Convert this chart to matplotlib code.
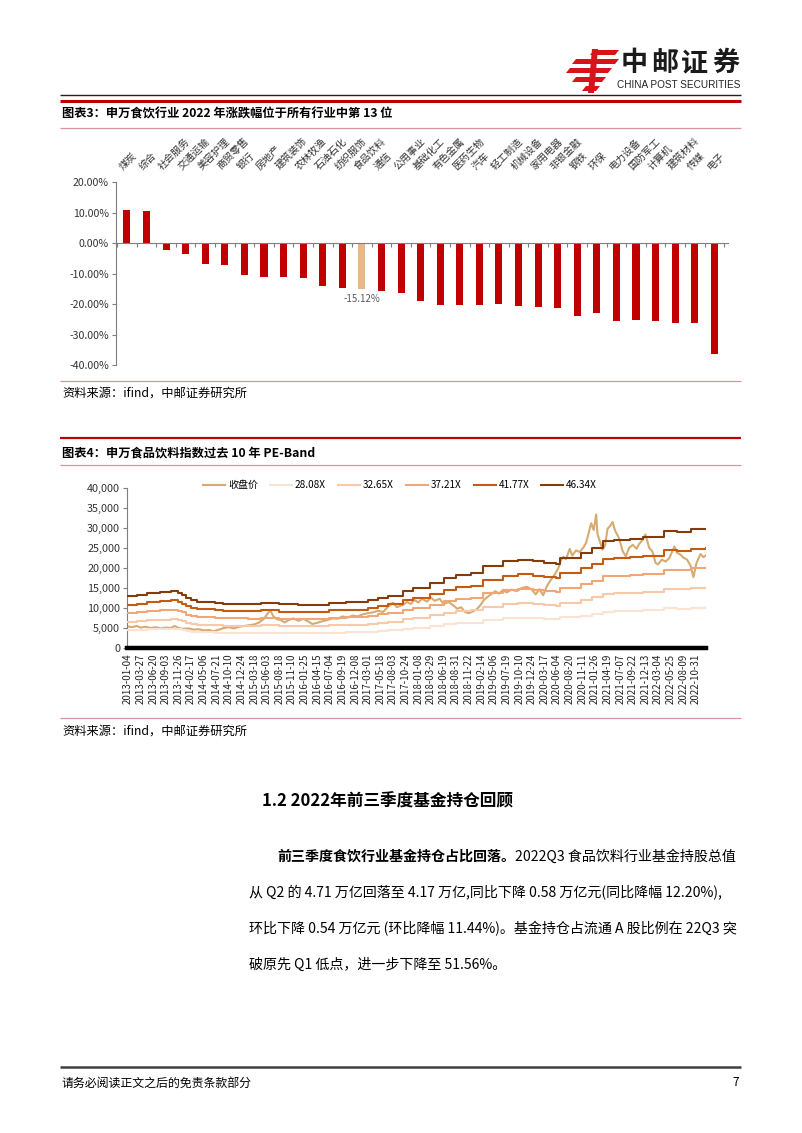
import numpy as np
import matplotlib
matplotlib.use("Agg")
import matplotlib.pyplot as plt
from matplotlib.lines import Line2D
from matplotlib.patches import Polygon
import matplotlib.transforms as mtrans

plt.rcParams['font.family'] = ['Noto Sans CJK SC', 'DejaVu Sans']
plt.rcParams['axes.unicode_minus'] = False

W, H = 802, 1133

# ---- chart 1: 2022 industry returns (%)
industries = ["煤炭", "综合", "社会服务", "交通运输", "美容护理", "商贸零售", "银行", "房地产",
              "建筑装饰", "农林牧渔", "石油石化", "纺织服饰", "食品饮料", "通信", "公用事业",
              "基础化工", "有色金属", "医药生物", "汽车", "轻工制造", "机械设备", "家用电器",
              "非银金融", "钢铁", "环保", "电力设备", "国防军工", "计算机", "建筑材料", "传媒", "电子"]
change_2022 = [10.9, 10.6, -2.3, -3.5, -6.9, -7.2, -10.6, -11.2, -11.1, -11.5, -14.0, -14.7,
               -15.12, -15.6, -16.4, -19.1, -20.4, -20.4, -20.2, -20.1, -20.8, -21.0, -21.4,
               -23.9, -22.9, -25.5, -25.4, -25.5, -26.2, -26.2, -36.5]
highlight = "食品饮料"

# ---- chart 2: PE band (x in tick-label units)
date_labels = ["2013-01-04", "2013-03-27", "2013-06-20", "2013-09-03", "2013-11-26",
               "2014-02-17", "2014-05-06", "2014-07-21", "2014-10-10", "2014-12-24",
               "2015-03-18", "2015-06-03", "2015-08-18", "2015-11-10",
               "2016-01-25", "2016-04-15", "2016-07-04", "2016-09-19", "2016-12-08",
               "2017-03-01", "2017-05-18", "2017-08-03", "2017-10-24",
               "2018-01-08", "2018-03-29", "2018-06-19", "2018-08-31", "2018-11-22",
               "2019-02-14", "2019-05-06", "2019-07-19", "2019-10-10", "2019-12-24",
               "2020-03-17", "2020-06-04", "2020-08-20", "2020-11-11",
               "2021-01-26", "2021-04-19", "2021-07-07", "2021-09-22", "2021-12-13",
               "2022-03-04", "2022-05-25", "2022-08-09", "2022-10-31"]

band_pos = [0, 0.7, 1.5, 2.5, 3.4, 4.0, 4.3, 4.6, 5.0, 5.5, 6.9, 7.5, 9.5, 10.5, 12.0,
            13.5, 15.0, 15.9, 17.3, 19.0, 19.8, 20.6, 21.8, 22.6, 23.9, 25.0, 26.0, 27.2, 28.1, 29.7,
            30.9, 32.1, 33.0, 33.9, 34.2, 35.9, 36.8, 37.6, 38.5, 39.8, 40.8, 42.5, 43.5, 44.6, 45.8]
band_4634 = [12900, 13300, 13700, 14000, 14200, 13800, 13300, 12400, 11900, 11600, 11300, 11100,
             11000, 11300, 10900, 10800, 10700, 11200, 11500, 12000, 12600, 13000, 14200, 15000,
             16200, 17500, 18200, 18700, 20400, 21700, 22100, 21700, 21300, 21000, 22500, 23800,
             25000, 26700, 27000, 27300, 27700, 29200, 29000, 29750, 29800]
band_4177 = [10800, 11100, 11400, 11700, 11900, 11500, 11100, 10400, 9900, 9700, 9400, 9300,
             9200, 9400, 9100, 9000, 8900, 9400, 9600, 10000, 10500, 10900, 11900, 12500,
             13500, 14600, 15200, 15600, 17000, 18100, 18500, 18100, 17800, 17500, 18800, 19900,
             20900, 22300, 22500, 22800, 23100, 24400, 24200, 24800, 24900]
band_3721 = [8640, 8910, 9180, 9380, 9510, 9250, 8910, 8310, 7970, 7770, 7570, 7440,
             7370, 7570, 7300, 7240, 7170, 7500, 7710, 8040, 8440, 8710, 9510, 10050,
             10850, 11730, 12190, 12530, 13670, 14540, 14810, 14540, 14270, 14070, 15080, 15950,
             16750, 17890, 18090, 18290, 18560, 19560, 19430, 19930, 19970]
band_3265 = [6510, 6720, 6920, 7070, 7170, 6970, 6720, 6260, 6010, 5860, 5710, 5610,
             5560, 5710, 5500, 5450, 5400, 5660, 5810, 6060, 6360, 6570, 7170, 7580,
             8180, 8840, 9190, 9440, 10300, 10960, 11160, 10960, 10760, 10610, 11360, 12020,
             12630, 13480, 13640, 13790, 13990, 14750, 14650, 15020, 15050]
band_2808 = [4390, 4520, 4660, 4760, 4830, 4690, 4520, 4220, 4050, 3940, 3840, 3770,
             3740, 3840, 3710, 3670, 3640, 3810, 3910, 4080, 4280, 4420, 4830, 5100,
             5510, 5950, 6190, 6360, 6940, 7380, 7510, 7380, 7240, 7140, 7650, 8090,
             8500, 9080, 9180, 9280, 9420, 9930, 9860, 10120, 10130]

close_pos = [0, 0.3, 0.7, 1.0, 1.4, 1.8, 2.2, 2.6, 3.0, 3.4, 3.7, 4.0, 4.4, 4.8, 5.2, 5.6, 6.0,
             6.4, 6.8, 7.2, 7.6, 8.0, 8.4, 8.8, 9.2, 9.6, 10.0, 10.4, 10.8, 11.1, 11.3, 11.5,
             11.8, 12.1, 12.4, 12.8, 13.1, 13.5, 13.9, 14.3, 14.6, 15.0, 15.4, 15.8, 16.2, 16.6,
             17.0, 17.4, 17.8, 18.2, 18.6, 19.0, 19.4, 19.8, 20.2, 20.6, 21.0, 21.3, 21.55,
             21.8, 22.1, 22.4, 22.7, 23.0, 23.3, 23.7, 24.0, 24.3, 24.7, 25.0, 25.4, 25.8, 26.1,
             26.4, 26.7, 27.0, 27.3, 27.6, 27.9, 28.2, 28.5, 28.8, 29.1, 29.4, 29.7, 30.0, 30.4,
             30.8, 31.2, 31.6, 32.0, 32.3, 32.6, 32.9, 33.2, 33.5, 33.8, 34.1, 34.3, 34.5, 34.7,
             35.0, 35.2, 35.5, 35.8, 36.1, 36.3, 36.5, 36.7, 36.9, 37.1, 37.2, 37.4, 37.6, 37.8,
             38.0, 38.2, 38.4, 38.6, 38.9, 39.2, 39.45, 39.7, 40.0, 40.3, 40.5, 40.8, 41.0, 41.3,
             41.55, 41.8, 42.0, 42.3, 42.6, 42.9, 43.3, 43.5, 43.8, 44.0, 44.3, 44.6, 44.8, 45.05,
             45.37, 45.6, 45.8]
close_val = [5400, 5200, 5500, 5100, 5300, 5000, 5200, 4900, 5100, 5000, 5500, 5000, 4800, 4900,
             4600, 4700, 4400, 4500, 4200, 4600, 5000, 5200, 4900, 5300, 5500, 5700, 5900, 6400,
             7400, 8800, 9300, 8000, 7200, 7000, 6400, 7100, 7400, 6800, 7300, 6600, 6000, 6300,
             6700, 7000, 7400, 7300, 7900, 7600, 8100, 7900, 8400, 8700, 8900, 9300, 9000, 10300,
             11300, 10200, 10500, 10800, 11500, 11000, 12000, 11400, 12300, 11600, 12600, 11800,
             12300, 11000, 11500, 10600, 9800, 10200, 9000, 8700, 9100, 9600, 10600, 12000, 12800,
             13500, 14200, 13600, 14500, 13900, 14600, 14200, 15000, 15300, 14600, 13400, 14700,
             13200, 15500, 17000, 18300, 20000, 21900, 22800, 22200, 24800, 23100, 24400, 24000,
             25200, 26300, 28800, 31200, 29500, 33400, 28500, 26500, 24600, 25600, 29800, 30500,
             31500, 29300, 27500, 24200, 22900, 25000, 25800, 24800, 26000, 27100, 28400, 25000,
             24200, 21300, 20900, 22100, 21600, 22500, 25400, 23800, 23300, 22600, 22100, 20400,
             17700, 21300, 23500, 22700, 23200]

band_names = ["28.08X", "32.65X", "37.21X", "41.77X", "46.34X"]
band_values = [band_2808, band_3265, band_3721, band_4177, band_4634]
band_colors = ["#FBE3D3", "#F7C9A8", "#F2A676", "#C55A11", "#843C0C"]
close_color = "#D6AB72"


def fx(x):
    return x / W


def fy(y):
    return 1 - y / H


def px_axes(l, t, r, b):
    return fig.add_axes([fx(l), fy(b), (r - l) / W, (b - t) / H])


def hline(x0, x1, y, color, lw):
    fig.add_artist(Line2D([fx(x0), fx(x1)], [fy(y), fy(y)], transform=fig.transFigure,
                          color=color, lw=lw, solid_capstyle='butt'))


fig = plt.figure(figsize=(W / 100, H / 100), dpi=100)
fig.patch.set_facecolor("white")

# ---- header / logo
logo_red = "#D7141A"
for x0, x1, y0, y1 in [(592, 617, 50, 55), (574, 617, 59, 64), (568, 610, 68, 73),
                       (574, 604, 77, 82), (584, 598, 86, 91)]:
    pts = [(fx(x0 + 2), fy(y0)), (fx(x1 + 2), fy(y0)), (fx(x1 - 2), fy(y1)), (fx(x0 - 2), fy(y1))]
    fig.add_artist(Polygon(pts, closed=True, transform=fig.transFigure, color=logo_red, lw=0))
fig.add_artist(Polygon([(fx(592), fy(49)), (fx(598), fy(49)), (fx(594), fy(93)), (fx(588), fy(93))],
                       closed=True, transform=fig.transFigure, color=logo_red, lw=0))
for i, ch in enumerate("中邮证券"):
    fig.text(fx(634 + i * 30.5), fy(63), ch, fontsize=19.5, fontweight='bold',
             ha='center', va='center', color='#1a1a1a')
fig.text(fx(679), fy(85), "CHINA POST SECURITIES", fontsize=7.2,
         family=['Liberation Sans Narrow', 'Liberation Sans'], ha='center', va='center', color='#222222')

hline(60, 741, 94.5, "#222222", 1.0)
hline(60, 741, 100.5, "#C00000", 2.2)
fig.text(fx(62), fy(114), "图表3：申万食饮行业 2022 年涨跌幅位于所有行业中第 13 位",
         fontsize=8.8, fontweight='bold', va='center', ha='left')
hline(60, 741, 127.5, "#D9959B", 0.9)

# ---- chart 1
ax1 = px_axes(116, 182, 728, 365)
xpos = np.arange(len(industries))
bar_colors = ["#E8B88A" if n == highlight else "#C00000" for n in industries]
ax1.bar(xpos, change_2022, width=0.36, color=bar_colors, zorder=2)
ax1.set_xlim(-0.56, 30.7)
ax1.set_ylim(-40, 20)
ax1.spines['top'].set_visible(False)
ax1.spines['right'].set_visible(False)
ax1.spines['bottom'].set_position(('data', 0))
ax1.spines['bottom'].set_color('#7f7f7f')
ax1.spines['left'].set_color('#7f7f7f')
ax1.set_yticks(np.arange(-40, 21, 10))
ax1.set_yticklabels(["%.2f%%" % v for v in np.arange(-40, 21, 10)], fontsize=7.6, color='#333333')
ax1.set_xticks(np.arange(-0.5, 31, 1))
ax1.set_xticklabels([])
ax1.tick_params(axis='both', length=3, width=0.8, color='#7f7f7f', pad=2)
trans1 = mtrans.blended_transform_factory(ax1.transData, ax1.transAxes)
for i, name in enumerate(industries):
    ax1.text(i - 0.12, 1 + 10 / 183, name, transform=trans1, rotation=45, rotation_mode='anchor',
             ha='left', va='bottom', fontsize=7.2, color='#333333')
hi = industries.index(highlight)
ax1.text(hi, -18.5, "%.2f%%" % change_2022[hi], ha='center', va='center', fontsize=7, color='#595959')

hline(60, 741, 381, "#D9959B", 0.9)
fig.text(fx(62), fy(393), "资料来源：ifind，中邮证券研究所", fontsize=8.8, va='center')

# ---- chart 2
hline(60, 741, 438, "#C00000", 1.6)
fig.text(fx(62), fy(453), "图表4：申万食品饮料指数过去 10 年 PE-Band",
         fontsize=8.8, fontweight='bold', va='center', ha='left')
hline(60, 741, 465, "#D9959B", 0.9)

ax2 = px_axes(127, 488, 706, 648)
ax2.plot(close_pos, close_val, color=close_color, lw=1.5, label="收盘价", zorder=2)
for name, vals, col in zip(band_names, band_values, band_colors):
    ax2.plot(band_pos, vals, drawstyle='steps-post', color=col, lw=1.5, label=name, zorder=3)
ax2.set_xlim(-0.08, 45.8)
ax2.set_ylim(0, 40000)
ax2.spines['top'].set_visible(False)
ax2.spines['right'].set_visible(False)
ax2.spines['left'].set_color('#7f7f7f')
ax2.spines['bottom'].set_linewidth(3.2)
ax2.spines['bottom'].set_color('black')
ax2.set_yticks(np.arange(0, 40001, 5000))
ax2.set_yticklabels(["{:,}".format(v) for v in range(0, 40001, 5000)], fontsize=7.8, color='#333333')
ax2.set_xticks(np.arange(len(date_labels)))
ax2.set_xticklabels(date_labels, rotation=90, fontsize=7, color='#222222')
ax2.tick_params(axis='y', length=3, width=0.8, color='#7f7f7f', pad=2)
ax2.tick_params(axis='x', length=0, pad=4)
fig.legend(*ax2.get_legend_handles_labels(), loc='center', bbox_to_anchor=(fx(400), fy(485)),
           ncol=6, frameon=False, fontsize=7.2, handlelength=2.2, handletextpad=0.3,
           columnspacing=1.2)

hline(60, 741, 718, "#D9959B", 0.9)
fig.text(fx(62), fy(731), "资料来源：ifind，中邮证券研究所", fontsize=8.8, va='center')

# ---- body text
fig.text(fx(262), fy(801), "1.2 2022年前三季度基金持仓回顾", fontsize=12, fontweight='bold', va='center')
bold_part = fig.text(fx(277), fy(857), "前三季度食饮行业基金持仓占比回落。", fontsize=10.1,
                     fontweight='bold', va='center')
fig.canvas.draw()
bb = bold_part.get_window_extent()
fig.text(bb.x1 / W, fy(857), "2022Q3 食品饮料行业基金持股总值", fontsize=10.1, va='center')
body_lines = ["从 Q2 的 4.71 万亿回落至 4.17 万亿,同比下降 0.58 万亿元(同比降幅 12.20%),",
              "环比下降 0.54 万亿元 (环比降幅 11.44%)。基金持仓占流通 A 股比例在 22Q3 突",
              "破原先 Q1 低点，进一步下降至 51.56%。"]
for j, line in enumerate(body_lines):
    fig.text(fx(249), fy(893 + 36 * j), line, fontsize=10.1, va='center')

# ---- footer
hline(60, 741, 1067, "#404040", 1.8)
fig.text(fx(62), fy(1083), "请务必阅读正文之后的免责条款部分", fontsize=8.6, va='center')
fig.text(fx(736), fy(1083), "7", fontsize=8.6, va='center', ha='center')

fig.savefig("out.png", dpi=100)
